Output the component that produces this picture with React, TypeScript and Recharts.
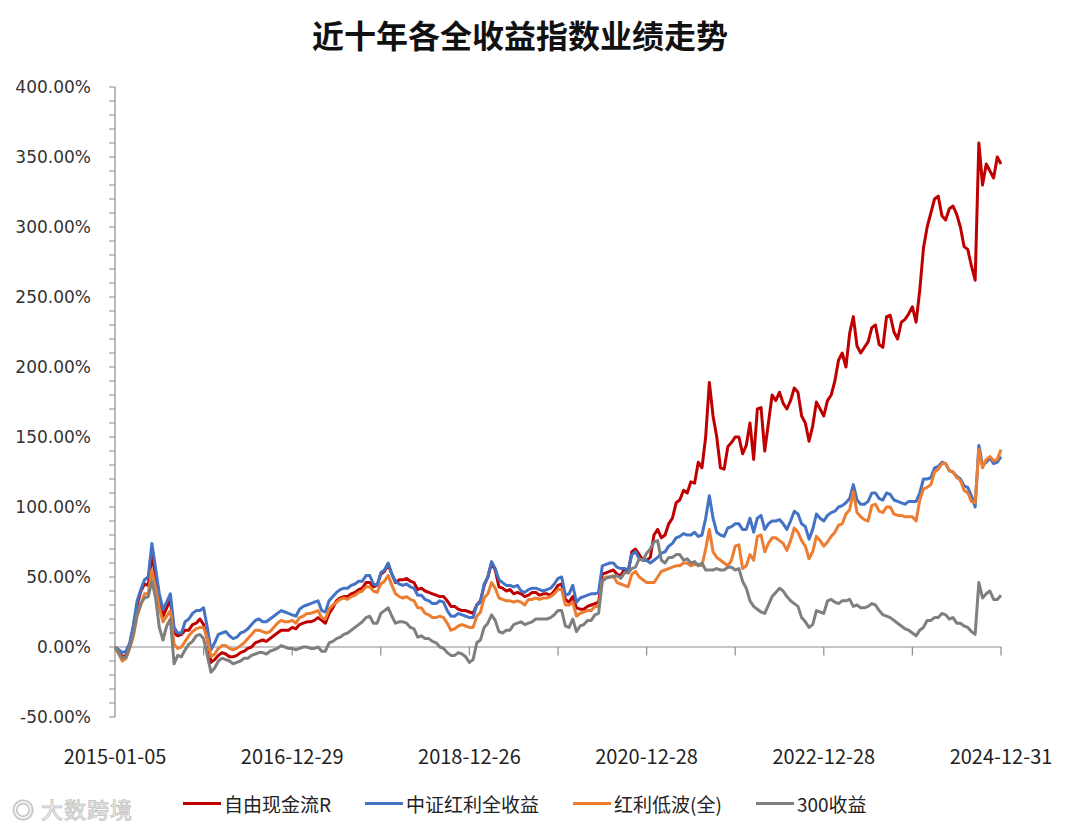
import { LineChart, Line, XAxis, YAxis, ReferenceLine } from "recharts";

const title = "近十年各全收益指数业绩走势";

// x tick labels, one every two years
const tickLabels = ["2015-01-05", "2016-12-29", "2018-12-26", "2020-12-28", "2022-12-28", "2024-12-31"];

// points: start date, then mid-month and month-end for Jan 2015 .. Dec 2024
const dates: string[] = ["2015-01-05"];
for (let k = 1; k <= 120; k++) {
  const y = 2015 + Math.floor((k - 1) / 12);
  const mm = String(((k - 1) % 12) + 1).padStart(2, "0");
  dates.push(`${y}-${mm}-15`);
  dates.push(k % 24 === 0 ? tickLabels[k / 24] : `${y}-${mm}-28`);
}

// cumulative total return, %  (first value = start, then 24 per year)
const freeCashFlow = [
  0,
  -3, -7, -6, 2, 14, 30, 40, 45, 44, 66, 50, 35, 22, 28, 34, 10, 8, 9, 12, 12, 16, 17, 20, 16,
  6, -11, -9, -6, -4, -5, -7, -7, -6, -4, -3, -1, 0, 3, 4, 5, 4, 6, 8, 10, 12, 12, 12, 14,
  13, 16, 17, 18, 18, 19, 21, 19, 17, 24, 28, 33, 35, 36, 36, 38, 39, 41, 42, 46, 46, 43, 44, 52,
  54, 59, 52, 46, 48, 48, 49, 47, 46, 41, 42, 40, 39, 38, 37, 36, 36, 33, 29, 29, 27, 26, 26, 25,
  24, 30, 33, 44, 50, 60, 55, 43, 42, 40, 41, 38, 39, 38, 36, 37, 39, 39, 37, 38, 38, 37, 40, 44,
  45, 34, 32, 36, 28, 27, 27, 29, 30, 31, 32, 52, 53, 54, 55, 52, 51, 56, 53, 68, 70, 66, 62, 62,
  64, 80, 84, 78, 80, 88, 92, 103, 105, 112, 110, 118, 117, 132, 128, 150, 189, 165, 150, 128, 127, 143, 146, 150,
  150, 138, 144, 160, 134, 170, 171, 140, 160, 180, 176, 182, 174, 170, 176, 185, 182, 165, 160, 147, 158, 175, 170, 165,
  176, 180, 190, 205, 210, 200, 224, 236, 215, 210, 214, 218, 228, 230, 216, 214, 236, 237, 225, 220, 232, 234, 238, 243,
  232, 255, 285, 300, 310, 320, 322, 308, 305, 313, 315, 309, 300, 286, 284, 272, 262, 360, 330, 345, 340, 335, 350, 345,
];
const dividendTR = [
  0,
  -2, -4, -3, 3, 16, 33, 41, 48, 50, 74, 56, 38, 27, 32, 38, 14, 10, 10, 18, 20, 24, 26, 26, 28,
  14, -2, 3, 9, 10, 11, 8, 6, 7, 10, 11, 13, 16, 19, 20, 18, 18, 20, 22, 24, 26, 25, 24, 23,
  22, 27, 29, 30, 31, 32, 33, 26, 25, 33, 36, 39, 41, 42, 42, 44, 45, 47, 47, 51, 51, 45, 44, 53,
  55, 60, 52, 47, 45, 44, 45, 43, 42, 37, 37, 34, 33, 31, 31, 33, 32, 26, 22, 22, 24, 23, 22, 21,
  21, 30, 32, 45, 50, 61, 56, 48, 46, 44, 44, 43, 44, 40, 39, 41, 42, 42, 41, 40, 41, 42, 45, 49,
  50, 37, 38, 44, 32, 35, 36, 37, 38, 38, 39, 58, 59, 60, 60, 57, 56, 56, 55, 66, 68, 63, 62, 62,
  60, 62, 64, 67, 68, 72, 74, 78, 79, 81, 80, 80, 82, 79, 80, 92, 108, 92, 82, 80, 79, 85, 86, 88,
  88, 84, 84, 92, 82, 92, 94, 84, 88, 90, 90, 91, 88, 84, 90, 97, 95, 88, 86, 77, 84, 95, 92, 90,
  94, 96, 97, 100, 101, 103, 106, 116, 105, 102, 102, 104, 110, 110, 106, 105, 110, 109, 105, 104, 103, 102, 104, 104,
  104, 110, 120, 120, 121, 128, 129, 132, 131, 126, 125, 122, 120, 115, 114, 108, 100, 144, 130, 132, 135, 131, 132, 136,
];
const lowVolDividend = [
  0,
  -5, -10, -8, -1, 8, 22, 30, 38, 38, 55, 42, 28, 18, 22, 26, 2, -1, 0, 4, 8, 11, 13, 14, 14,
  6, -7, -5, -1, 1, 1, -1, -2, -1, 1, 3, 6, 9, 12, 12, 11, 10, 11, 14, 17, 19, 18, 18, 19,
  17, 21, 22, 24, 24, 25, 26, 21, 20, 27, 30, 32, 34, 35, 34, 36, 37, 39, 40, 43, 43, 40, 39, 45,
  47, 51, 44, 38, 36, 35, 36, 34, 33, 28, 28, 24, 23, 21, 21, 22, 21, 17, 12, 13, 15, 16, 15, 14,
  14, 22, 25, 35, 38, 46, 42, 35, 34, 33, 33, 32, 33, 32, 30, 34, 34, 35, 34, 35, 35, 36, 38, 41,
  41, 30, 30, 32, 22, 24, 25, 26, 26, 29, 29, 47, 50, 50, 51, 46, 45, 44, 43, 52, 54, 50, 48, 46,
  46, 46, 50, 54, 55, 56, 57, 58, 58, 60, 60, 58, 59, 59, 58, 70, 84, 68, 64, 62, 60, 58, 62, 72,
  73, 56, 58, 66, 62, 79, 80, 68, 74, 78, 78, 76, 74, 69, 76, 85, 82, 76, 72, 63, 68, 79, 76, 72,
  75, 79, 82, 87, 88, 95, 98, 111, 96, 93, 91, 90, 101, 102, 97, 96, 100, 100, 95, 94, 94, 93, 93, 93,
  90, 105, 113, 114, 116, 125, 127, 131, 131, 126, 125, 121, 119, 112, 110, 104, 103, 141, 128, 134, 136, 133, 134, 141,
];
const csi300 = [
  0,
  -4, -8, -7, 0, 10, 24, 31, 35, 36, 47, 35, 14, 5, 15, 20, -12, -6, -7, -2, 2, 4, 8, 9, 6,
  -6, -18, -15, -10, -8, -9, -10, -12, -11, -10, -8, -8, -6, -5, -4, -4, -5, -3, -2, -1, 1, 0, -1, -1,
  -2, -1, 0, 0, -1, -1, 0, -3, -3, 3, 4, 6, 7, 9, 10, 12, 14, 16, 18, 21, 22, 17, 17, 24,
  26, 28, 22, 17, 18, 18, 17, 14, 13, 7, 8, 6, 6, 4, 3, 0, -1, -4, -6, -6, -4, -5, -7, -11,
  -9, 3, 5, 14, 17, 23, 19, 11, 10, 12, 12, 16, 17, 18, 16, 17, 18, 20, 20, 20, 20, 21, 23, 26,
  26, 15, 14, 20, 11, 15, 16, 19, 19, 23, 24, 47, 49, 50, 50, 51, 49, 53, 53, 56, 57, 63, 62, 67,
  70, 75, 76, 62, 60, 64, 64, 66, 66, 62, 63, 60, 61, 58, 60, 55, 55, 55, 56, 55, 55, 57, 57, 55,
  56, 47, 42, 33, 29, 27, 25, 24, 30, 36, 39, 42, 40, 36, 33, 31, 29, 21, 18, 14, 16, 26, 25, 24,
  33, 34, 32, 31, 33, 33, 34, 29, 30, 28, 28, 29, 31, 30, 26, 23, 22, 21, 19, 17, 15, 13, 12, 10,
  8, 12, 14, 19, 19, 21, 21, 24, 23, 20, 21, 17, 17, 15, 14, 11, 9, 46, 35, 38, 40, 34, 34, 37,
];

const series = [
  { key: "fcf", name: "自由现金流R", color: "#C00000", values: freeCashFlow },
  { key: "div", name: "中证红利全收益", color: "#4472C4", values: dividendTR },
  { key: "lowvol", name: "红利低波(全)", color: "#ED7D31", values: lowVolDividend },
  { key: "hs300", name: "300收益", color: "#7F7F7F", values: csi300 },
];

const data = dates.map((date, i) => {
  const row: Record<string, string | number> = { date };
  series.forEach((s) => (row[s.key] = s.values[i]));
  return row;
});

const yTicks: number[] = [];
for (let v = -50; v <= 400; v += 10) yTicks.push(v);

// small ticks on the zero line, one per year
const yearTicks = dates.filter((_, i) => i % 24 === 0 && i > 0);

const axisColor = "#8c8c8c";

export default function App() {
  return (
    <div style={{ position: "relative", width: 1055, height: 813, background: "#fff" }}>
      <div
        style={{
          position: "absolute",
          top: 3,
          left: 0,
          width: 1024,
          textAlign: "center",
          fontFamily: "'Noto Sans CJK SC'",
          fontWeight: 700,
          fontSize: 32,
          color: "#111",
        }}
      >
        {title}
      </div>
      <LineChart
        width={1055}
        height={813}
        data={data}
        margin={{ top: 79, right: 62, left: 0, bottom: 44 }}
      >
        <XAxis
          dataKey="date"
          ticks={tickLabels}
          interval={0}
          axisLine={false}
          tickLine={false}
          height={60}
          tickMargin={27}
          tick={{ fontFamily: "'Noto Sans CJK SC'", fontSize: 20, fill: "#222" }}
        />
        <YAxis
          domain={[-50, 400]}
          ticks={yTicks}
          interval={0}
          width={107}
          tickSize={6}
          tickMargin={18}
          axisLine={{ stroke: axisColor, strokeWidth: 1.2 }}
          tickLine={{ stroke: axisColor }}
          tickFormatter={(v: number) => (v % 50 === 0 ? `${v.toFixed(2)}%` : "")}
          tick={{ fontFamily: "'DejaVu Sans'", fontSize: 17, fill: "#333" }}
          allowDataOverflow
        />
        <ReferenceLine y={0} stroke={axisColor} strokeWidth={1.2} />
        {yearTicks.map((d) => (
          <ReferenceLine
            key={d}
            segment={[
              { x: d, y: 0 },
              { x: d, y: -6 },
            ]}
            stroke={axisColor}
            strokeWidth={1.2}
          />
        ))}
        {series.map((s) => (
          <Line
            key={s.key}
            dataKey={s.key}
            name={s.name}
            stroke={s.color}
            strokeWidth={3}
            strokeLinejoin="round"
            dot={false}
            type="linear"
            isAnimationActive={false}
          />
        ))}
      </LineChart>
      <div
        style={{
          position: "absolute",
          top: 782,
          left: 175,
          display: "flex",
          alignItems: "center",
          gap: 34,
          fontFamily: "'Noto Sans CJK SC'",
          fontSize: 19,
          color: "#222",
        }}
      >
        {series.map((s) => (
          <div key={s.key} style={{ display: "flex", alignItems: "center" }}>
            <span style={{ display: "inline-block", width: 38, height: 3, background: s.color, marginRight: 3 }} />
            <span>{s.name}</span>
          </div>
        ))}
      </div>
      <div
        style={{
          position: "absolute",
          top: 784,
          left: 4,
          fontFamily: "'Noto Sans CJK SC'",
          fontSize: 22,
          color: "#fff",
          WebkitTextStroke: "1px #c8c8c8",
          letterSpacing: 1,
        }}
      >
        ◎ 大数跨境
      </div>
    </div>
  );
}
